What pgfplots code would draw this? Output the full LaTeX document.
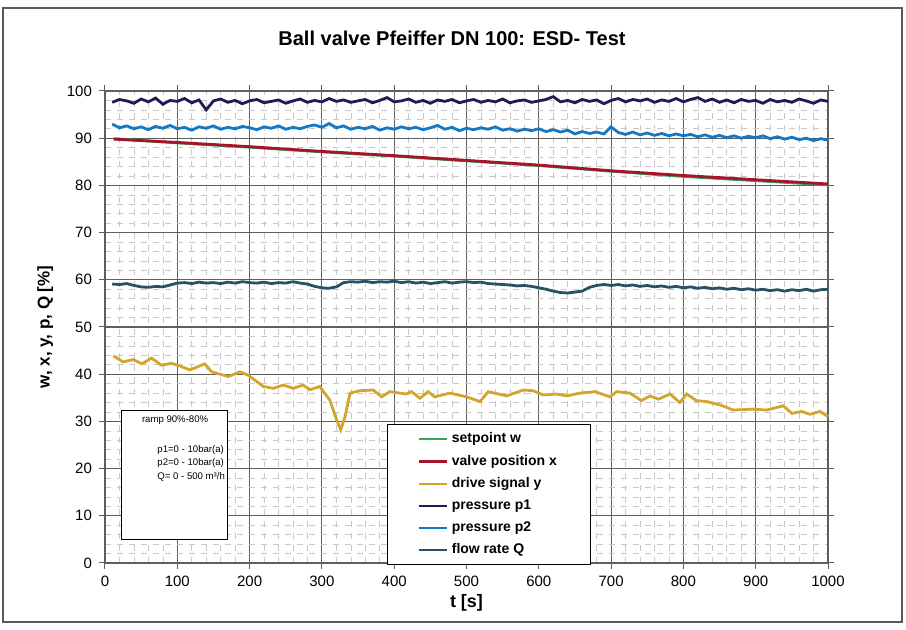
\documentclass[border=0pt]{standalone}
\usepackage{pgfplots}
\pgfplotsset{compat=1.18}
\usepackage{pgfplotstable}
\usepackage{fontspec}
\setmainfont{Liberation Sans}
\usetikzlibrary{calc}

\definecolor{cw}{RGB}{60,160,95}
\definecolor{cx}{RGB}{165,20,40}
\definecolor{cy}{RGB}{210,165,45}
\definecolor{cp1}{RGB}{40,22,85}
\definecolor{cp2}{RGB}{20,120,195}
\definecolor{cq}{RGB}{40,82,100}
\definecolor{gridmaj}{RGB}{95,95,95}
\definecolor{gridmin}{RGB}{200,200,200}

% noisy traces, every 10 s
\pgfplotstableread{
t    p1    p2    Q
10   97.6  93.0  59.1
20   98.2  92.2  59.0
30   97.9  92.6  59.2
40   97.4  92.0  58.8
50   98.3  92.4  58.5
60   97.7  91.8  58.4
70   98.5  92.5  58.6
80   97.2  92.1  58.5
90   98.0  92.7  58.9
100  97.8  92.0  59.3
110  98.4  92.3  59.4
120  97.5  91.7  59.2
130  98.1  92.4  59.5
140  96.0  92.1  59.3
150  97.9  92.6  59.4
160  98.3  91.9  59.2
170  97.6  92.3  59.5
180  98.0  92.0  59.3
190  97.3  92.5  59.6
200  97.9  92.2  59.4
210  98.2  91.8  59.3
220  97.5  92.4  59.5
230  97.8  92.1  59.2
240  98.1  92.6  59.4
250  97.4  91.9  59.3
260  97.9  92.3  59.6
270  98.3  92.0  59.3
280  97.6  92.5  59.1
290  98.0  92.8  58.6
300  97.7  92.3  58.3
310  98.4  93.1  58.2
320  97.8  92.2  58.5
330  98.1  92.6  59.4
340  97.6  91.9  59.6
350  97.9  92.3  59.5
360  98.2  92.0  59.7
370  97.5  92.5  59.4
380  98.0  91.7  59.6
390  98.6  92.2  59.5
400  97.7  91.9  59.7
410  97.9  92.4  59.4
420  98.3  92.0  59.6
430  97.6  92.3  59.3
440  98.0  91.8  59.5
450  97.4  92.2  59.2
460  98.1  92.7  59.4
470  97.8  91.9  59.6
480  98.2  92.3  59.3
490  97.5  91.6  59.5
500  97.9  92.1  59.6
510  98.2  91.8  59.4
520  97.6  92.2  59.5
530  98.0  91.9  59.2
540  97.7  92.4  59.1
550  98.3  91.7  59.0
560  97.5  92.0  58.9
570  97.9  91.5  58.7
580  98.1  91.9  58.8
590  97.6  91.6  58.6
600  97.9  92.0  58.3
610  98.2  91.4  58.0
620  98.8  91.8  57.6
630  97.7  91.3  57.3
640  98.0  91.7  57.2
650  97.5  90.9  57.4
660  98.2  91.4  57.6
670  97.8  91.0  58.4
680  98.1  91.3  58.8
690  97.3  90.9  59.0
700  98.0  92.4  58.8
710  98.4  91.2  59.0
720  97.7  90.8  58.7
730  98.2  91.3  58.9
740  97.9  90.7  58.6
750  98.3  91.1  58.8
760  97.6  90.6  58.5
770  98.1  91.0  58.7
780  97.8  90.5  58.4
790  98.4  90.9  58.6
800  97.7  90.5  58.3
810  98.2  90.8  58.5
820  98.6  90.3  58.2
830  97.8  90.7  58.4
840  98.3  90.2  58.1
850  97.6  90.6  58.3
860  98.1  90.1  58.0
870  97.5  90.5  58.2
880  98.2  90.0  57.9
890  97.8  90.4  58.1
900  98.0  90.1  57.8
910  97.4  90.5  58.0
920  98.2  89.9  57.7
930  97.7  90.3  57.9
940  98.0  89.8  57.6
950  97.6  90.2  57.9
960  98.3  89.7  57.7
970  97.9  90.0  58.0
980  97.4  89.5  57.6
990  98.1  89.9  57.9
1000 97.8  89.6  58.0
}\noisy

\pgfplotstableread{
t     y
11.5  43.9
25    42.6
39    43.1
51    42.2
64.5  43.4
78    41.9
92    42.3
104   41.7
117.6 40.9
127   41.5
138   42.2
147.5 40.5
170.6 39.5
186.7 40.5
198   39.8
219   37.4
233   37.0
246.6 37.7
260.5 37.0
274   37.7
283.5 36.7
297   37.4
311   34.5
320   30.5
326   28.2
332   31.0
339   36.0
352.7 36.5
371   36.65
382.7 35.2
394   36.3
417   35.8
424   36.3
435.7 34.9
447   36.3
456   35.2
477   36.0
500   35.2
518.7 34.2
530   36.3
555.6 35.4
578.6 36.65
592   36.5
606   35.6
624.7 35.8
638.6 35.4
657   36.0
677.7 36.3
698.5 35.2
707.7 36.3
726   36.0
742   34.4
754   35.4
765.3 34.7
781.5 35.8
795   34.0
804.6 35.8
818   34.4
832   34.2
850.6 33.5
869   32.4
896.7 32.6
915   32.4
938   33.3
950   31.7
963.6 32.1
975   31.5
989   32.1
1000  31.0
}\drive

\begin{document}
\begin{tikzpicture}
\begin{axis}[
    scale only axis,
    width=361.5pt, height=236pt,
    xmin=0, xmax=1000, ymin=0, ymax=100,
    xtick={0,100,...,1000}, ytick={0,10,...,100},
    minor x tick num=4, minor y tick num=4,
    grid=both,
    major grid style={gridmaj, line width=0.55pt},
    minor grid style={gridmin, dashed, line width=0.3pt},
    axis line style={gridmaj, line width=0.6pt},
    tick style={gridmaj, line width=0.5pt},
    tick align=outside,
    major tick length=3pt, minor tick length=0pt,
    tick label style={font=\fontsize{7.5}{9}\selectfont},
    /pgf/number format/assume math mode=true,
    /pgf/number format/1000 sep={},
    xlabel={\textbf{t [s]}},
    ylabel={\textbf{w, x, y, p, Q [\%]}},
    xlabel style={font=\fontsize{9}{10}\selectfont, yshift=3pt},
    ylabel style={font=\fontsize{8.5}{10}\selectfont, yshift=0pt},
    legend style={at={(0.39,0.294)}, anchor=north west,
        font=\fontsize{7}{8.3}\selectfont\bfseries, draw=black, line width=0.5pt,
        fill=white, inner xsep=15pt, inner ysep=2pt, row sep=0.6pt},
    legend cell align=left,
    legend image code/.code={\draw[#1, line width=1.2pt] (0pt,0pt) -- (14pt,0pt);},
    every axis plot/.append style={line width=1.4pt},
    clip=false,
]
\addplot[cw] coordinates {
    (12,89.9) (100,89.0) (200,88.1) (300,87.1) (400,86.2) (500,85.2)
    (600,84.2) (700,83.0) (800,81.9) (900,81.0) (1000,80.1)
};
\addlegendentry{setpoint w}
\addplot[cx] coordinates {
    (12,89.8) (100,89.1) (200,88.2) (300,87.2) (400,86.3) (500,85.3)
    (600,84.3) (700,83.1) (800,82.1) (900,81.2) (1000,80.3)
};
\addlegendentry{valve position x}
\addplot[cy] table[x=t, y=y] {\drive};
\addlegendentry{drive signal y}
\addplot[cp1] table[x=t, y=p1] {\noisy};
\addlegendentry{pressure p1}
\addplot[cp2] table[x=t, y=p2] {\noisy};
\addlegendentry{pressure p2}
\addplot[cq] table[x=t, y=Q] {\noisy};
\addlegendentry{flow rate Q}

\draw[black, line width=0.5pt, fill=white] (axis cs:23.5,4.9) rectangle (axis cs:170,32.4);
\node[font=\fontsize{4.8}{6}\selectfont] at (axis cs:97,30.3) {ramp 90\%-80\%};
\node[font=\fontsize{4.8}{6.8}\selectfont, align=left, anchor=north west, inner sep=0pt]
    at (axis cs:72,25) {p1=0 - 10bar(a)\\p2=0 - 10bar(a)\\Q= 0 - 500 m³/h};
\end{axis}
\useasboundingbox ($(current axis.south west)+(-52.5pt,-33.5pt)$) rectangle ($(current axis.south west)+(400.5pt,281.5pt)$);
\node[font=\fontsize{10}{12}\selectfont\bfseries] at ($(current axis.south west)+(173.5pt,262.5pt)$)
    {Ball valve Pfeiffer DN 100: ESD- Test};
\draw[gray!70!black, line width=0.6pt]
    ($(current axis.south west)+(-51pt,-29.5pt)$) rectangle ($(current axis.south west)+(398.5pt,277.5pt)$);
\end{tikzpicture}
\end{document}
